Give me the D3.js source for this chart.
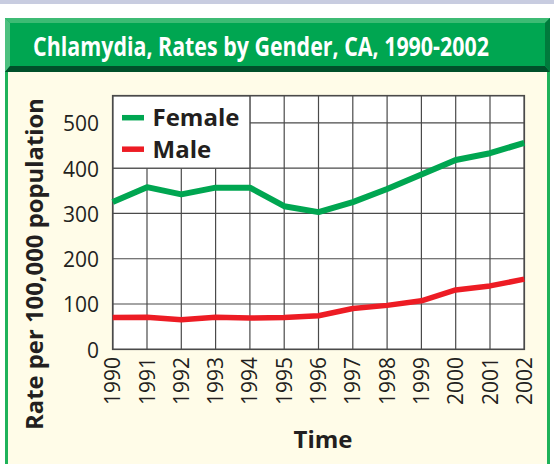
<!DOCTYPE html>
<html>
<head>
    <meta charset="utf-8" />
    <script src="https://cdn.jsdelivr.net/npm/d3@7/dist/d3.min.js"></script>
    <style>
        body { margin: 0; background: #fff; }
        text { font-family: "Open Sans", "Noto Sans", sans-serif; fill: #231f20; }
    </style>
</head>
<body>
</body>

<script>
    // data
    var years = [1990, 1991, 1992, 1993, 1994, 1995, 1996, 1997, 1998, 1999, 2000, 2001, 2002]
    var female = [325, 358, 342, 357, 357, 316, 303, 325, 354, 386, 418, 433, 456]
    var male = [70, 71, 65, 71, 69, 70, 74, 90, 97, 107, 131, 140, 155]
    var yTicks = [0, 100, 200, 300, 400, 500]
    var seriesNames = ["Female", "Male"]
    var seriesColors = ["#00a651", "#ed1c24"]

    var W = 554, H = 464
    var svg = d3.select("body").append("svg")
                .attr("width", W)
                .attr("height", H)

    // frame: top strip, cream panel, green title bar with bevel
    svg.append("rect").attr("x", 0).attr("y", 0).attr("width", W).attr("height", 4).attr("fill", "#c8cce0")
    svg.append("rect").attr("x", 5).attr("y", 72).attr("width", 545).attr("height", H - 72).attr("fill", "#fffce8")
    svg.append("rect").attr("x", 5).attr("y", 72).attr("width", 3).attr("height", H - 72).attr("fill", "#1fb25a")
    svg.append("rect").attr("x", 547).attr("y", 72).attr("width", 3).attr("height", H - 72).attr("fill", "#1fb25a")

    svg.append("rect").attr("x", 5).attr("y", 18).attr("width", 545).attr("height", 54).attr("fill", "#00a651")
    // bevel edges
    svg.append("polygon").attr("points", "5,18 550,18 545,23 10,23").attr("fill", "#3dbb74")
    svg.append("polygon").attr("points", "5,18 10,23 10,66 5,72").attr("fill", "#4cc07f")
    svg.append("polygon").attr("points", "5,72 10,66 545,66 550,72").attr("fill", "#00502a")
    svg.append("polygon").attr("points", "550,18 545,23 545,66 550,72").attr("fill", "#007a3c")

    // title is squeezed horizontally to the width of the original (narrower font there)
    var title = svg.append("text")
       .attr("text-anchor", "middle")
       .attr("font-size", 26).attr("font-weight", "bold")
       .style("fill", "#fff")
       .text("Chlamydia, Rates by Gender, CA, 1990-2002")
    var tw = title.node().getComputedTextLength()
    var sx = Math.min(1, 456 / tw)
    title.attr("transform", "translate(261,55.5) scale(" + sx + ",1)")

    // scales
    var x = d3.scaleLinear().domain([1990, 2002]).range([112.7, 524.3])
    var y = d3.scaleLinear().domain([0, 560]).range([349.3, 95.7])

    var plot = svg.append("g")
    plot.append("rect")
        .attr("x", x(1990)).attr("y", y(560))
        .attr("width", x(2002) - x(1990)).attr("height", y(0) - y(560))
        .attr("fill", "#fff")

    // gridlines
    plot.selectAll("line.h").data(yTicks.slice(1)).enter().append("line")
        .attr("class", "h")
        .attr("x1", x(1990)).attr("x2", x(2002))
        .attr("y1", function (d) { return y(d); })
        .attr("y2", function (d) { return y(d); })
        .attr("stroke", "#4a4a4a").attr("stroke-width", 1.2)
    plot.selectAll("line.v").data(years).enter().append("line")
        .attr("class", "v")
        .attr("x1", function (d) { return x(d); })
        .attr("x2", function (d) { return x(d); })
        .attr("y1", y(0)).attr("y2", y(560))
        .attr("stroke", "#4a4a4a").attr("stroke-width", 1.2)

    // legend box sits on the grid, upper left
    plot.append("rect")
        .attr("x", x(1990)).attr("y", y(560))
        .attr("width", x(1994) - x(1990)).attr("height", y(400) - y(560))
        .attr("fill", "#fff").attr("stroke", "#4a4a4a").attr("stroke-width", 1.2)

    plot.append("rect")
        .attr("x", x(1990)).attr("y", y(560))
        .attr("width", x(2002) - x(1990)).attr("height", y(0) - y(560))
        .attr("fill", "none").attr("stroke", "#4a4a4a").attr("stroke-width", 1.6)

    // lines
    var line = d3.line()
                 .x(function (d, i) { return x(years[i]); })
                 .y(function (d) { return y(d); })
    plot.selectAll("path.series").data([female, male]).enter().append("path")
        .attr("class", "series")
        .attr("d", line)
        .attr("fill", "none")
        .attr("stroke", function (d, i) { return seriesColors[i]; })
        .attr("stroke-width", function (d, i) { return i === 0 ? 6 : 5.5; })
        .attr("stroke-linejoin", "round")

    // legend entries
    var leg = plot.selectAll("g.leg").data(seriesNames).enter().append("g")
                  .attr("class", "leg")
                  .attr("transform", function (d, i) { return "translate(0," + (117.7 + i * 31.5) + ")"; })
    leg.append("line")
       .attr("x1", 122).attr("x2", 144).attr("y1", 0).attr("y2", 0)
       .attr("stroke", function (d, i) { return seriesColors[i]; })
       .attr("stroke-width", 5.5)
    leg.append("text")
       .attr("x", 152.5).attr("y", 8.5)
       .attr("font-size", 24).attr("font-weight", "bold")
       .text(function (d) { return d; })

    // y tick labels
    svg.selectAll("text.yt").data(yTicks).enter().append("text")
       .attr("class", "yt")
       .attr("x", 99).attr("y", function (d) { return y(d); })
       .attr("dy", "0.4em")
       .attr("text-anchor", "end")
       .attr("font-size", 21)
       .text(function (d) { return d; })

    // x tick labels, rotated
    svg.selectAll("text.xt").data(years).enter().append("text")
       .attr("class", "xt")
       .attr("transform", function (d) { return "translate(" + x(d) + ",357) rotate(-90)"; })
       .attr("dy", "0.36em")
       .attr("text-anchor", "end")
       .attr("font-size", 21)
       .text(function (d) { return d; })

    // axis titles
    svg.append("text")
       .attr("x", 323).attr("y", 448)
       .attr("text-anchor", "middle")
       .attr("font-size", 24).attr("font-weight", "bold")
       .text("Time")
    svg.append("text")
       .attr("transform", "translate(43,264) rotate(-90)")
       .attr("text-anchor", "middle")
       .attr("font-size", 23).attr("font-weight", "bold")
       .attr("textLength", 332).attr("lengthAdjust", "spacingAndGlyphs")
       .text("Rate per 100,000 population")
</script>

</html>
